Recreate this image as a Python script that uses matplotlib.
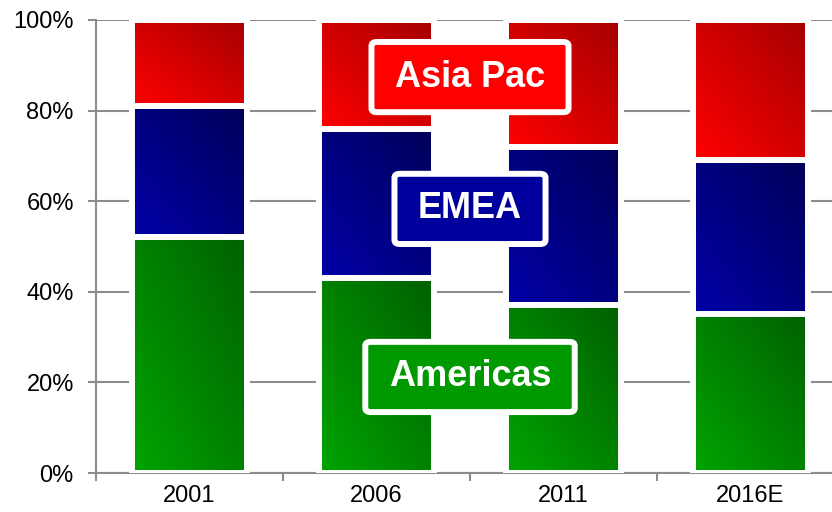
# Regional revenue mix, 100% stacked bars

import numpy as np
import matplotlib.pyplot as plt
from matplotlib.colors import LinearSegmentedColormap

plt.rcParams['font.family'] = ['Liberation Sans', 'DejaVu Sans']

# Data
years = ['2001', '2006', '2011', '2016E']
americas = [52, 43, 37, 35]
emea = [29, 33, 35, 34]
asia_pac = [19, 24, 28, 31]
regions = ['Americas', 'EMEA', 'Asia Pac']
yticks = [0, 20, 40, 60, 80, 100]

# Styles: (light corner, dark corner, label box colour)
styles = {
    'Americas': ('#00a400', '#006000', '#009a00'),
    'EMEA': ('#0000a8', '#000058', '#00009c'),
    'Asia Pac': ('#ff0000', '#a40000', '#ff0000'),
}
label_y = {'Americas': 21.2, 'EMEA': 58.3, 'Asia Pac': 87.4}

grey = '#8c8c8c'
width = 0.62

fig = plt.figure(figsize=(8.32, 5.12), dpi=100)
ax = fig.add_axes([96/832, 39/512, 1 - 96/832, 453/512])

x = np.arange(len(years))
series = [americas, emea, asia_pac]

# white backing so grid lines stop short of the bars
ax.bar(x, [100]*len(x), width + 6/187, color='white', zorder=2)

# diagonal gradient: light bottom-left, dark top-right
g = np.linspace(0, 1, 64)
grad = (g[None, :] + g[:, None]) / 2

bottom = np.zeros(len(x))
for name, vals in zip(regions, series):
    light, dark, _ = styles[name]
    cmap = LinearSegmentedColormap.from_list(name, [light, dark])
    bars = ax.bar(x, vals, width, bottom=bottom, facecolor='none',
                  edgecolor='white', linewidth=4.3, zorder=4)
    for b in bars:
        x0, y0 = b.get_x(), b.get_y()
        im = ax.imshow(grad, cmap=cmap, origin='lower', aspect='auto',
                       extent=(x0, x0 + b.get_width(), y0, y0 + b.get_height()),
                       zorder=3, interpolation='bilinear')
        im.set_clip_path(b)
    bottom += np.array(vals)

# region labels
for name in regions:
    ax.text(1.5, label_y[name], name, ha='center', va='center',
            color='white', fontsize=26, fontweight='bold', zorder=6,
            bbox=dict(boxstyle='round,pad=0.65,rounding_size=0.15',
                      mutation_aspect=0.75,
                      facecolor=styles[name][2], edgecolor='white',
                      linewidth=4.3))

ax.set_yticks(yticks)
ax.set_yticklabels([f'{v}%' for v in yticks])
ax.yaxis.grid(True, color=grey, linewidth=1.5, zorder=1)
ax.set_axisbelow(True)

ax.set_xticks(x)
ax.set_xticklabels(years)
ax.set_xticks(np.arange(-0.5, len(years)), minor=True)
ax.tick_params(axis='x', which='major', length=0, pad=8.5, labelsize=17)
ax.tick_params(axis='x', which='minor', length=6, width=1.5, color=grey,
               direction='out')
ax.tick_params(axis='y', length=6, width=1.5, color=grey, pad=10,
               labelsize=17)

# limits last: set_xticks would widen them again
ax.set_xlim(-0.5, -0.5 + 736/187)
ax.set_ylim(0, 100)

for s in ['top', 'right']:
    ax.spines[s].set_visible(False)
for s in ['left', 'bottom']:
    ax.spines[s].set_color(grey)
    ax.spines[s].set_linewidth(1.5)

fig.savefig('out.png', dpi=100)
